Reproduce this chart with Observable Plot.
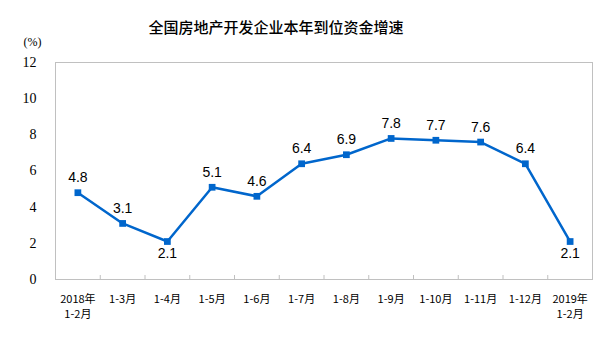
<!DOCTYPE html>
<html><head><meta charset="utf-8">
<script src="https://cdn.jsdelivr.net/npm/d3@7"></script>
<script src="https://cdn.jsdelivr.net/npm/@observablehq/plot@0.6"></script>
<style>body{margin:0;background:#fff}</style>
</head><body><div id="chart"></div>
<script>
const title = "全国房地产开发企业本年到位资金增速";
const unitLabel = "(%)";
const categories = ["2018年\n1-2月","1-3月","1-4月","1-5月","1-6月","1-7月","1-8月","1-9月","1-10月","1-11月","1-12月","2019年\n1-2月"];
const values = [4.8, 3.1, 2.1, 5.1, 4.6, 6.4, 6.9, 7.8, 7.7, 7.6, 6.4, 2.1];
const labelBelow = [false, false, true, false, false, false, false, false, false, false, false, true];
const yTicks = [0, 2, 4, 6, 8, 10, 12];

const data = categories.map((c, i) => ({cat: c, v: values[i], below: labelBelow[i]}));
const blue = "#0066cc";
const bw = (600 - 55 - 8) / categories.length;

const chart = Plot.plot({
  width: 600, height: 361,
  marginTop: 62, marginBottom: 82, marginLeft: 55, marginRight: 8,
  style: {background: "#fff"},
  x: {type: "band", domain: categories, padding: 0, round: false},
  y: {domain: [0, 12]},
  marks: [
    Plot.frame({stroke: "#c0c0c0"}),
    Plot.ruleX(categories.slice(1), {x: d => d, dx: -bw / 2, stroke: "#c0c0c0", insetTop: 213}),
    Plot.axisY(yTicks, {tickSize: 0, tickPadding: 19, fontFamily: "Liberation Serif", fontSize: 14, fill: "#000", label: null}),
    Plot.axisX({tickSize: 0, tickPadding: 13, fontFamily: "Noto Sans CJK SC", fontSize: 11, fill: "#000", label: null, lineHeight: 1.35, textAnchor: "middle"}),
    Plot.line(data, {x: "cat", y: "v", stroke: blue, strokeWidth: 2.5, curve: "linear"}),
    Plot.dot(data, {x: "cat", y: "v", symbol: "square", r: 3.8, fill: blue, stroke: "none"}),
    Plot.text(data, {x: "cat", y: "v", text: d => d.v.toFixed(1), fontFamily: "Liberation Sans", fontSize: 14, fill: "#000",
      filter: d => !d.below, dy: -15}),
    Plot.text(data, {x: "cat", y: "v", text: d => d.v.toFixed(1), fontFamily: "Liberation Sans", fontSize: 14, fill: "#000",
      filter: d => d.below, dy: 12}),
    Plot.text([title], {frameAnchor: "top", lineAnchor: "middle", dy: -34, dx: -48, text: d => d, fontFamily: "Noto Sans CJK SC", fontSize: 15, fontWeight: 500, fill: "#000"}),
    Plot.text([unitLabel], {frameAnchor: "top-left", lineAnchor: "middle", textAnchor: "middle", dx: -23, dy: -20, text: d => d, fontFamily: "Liberation Serif", fontSize: 12, fill: "#000"})
  ]
});
document.getElementById("chart").append(chart);
</script></body></html>
